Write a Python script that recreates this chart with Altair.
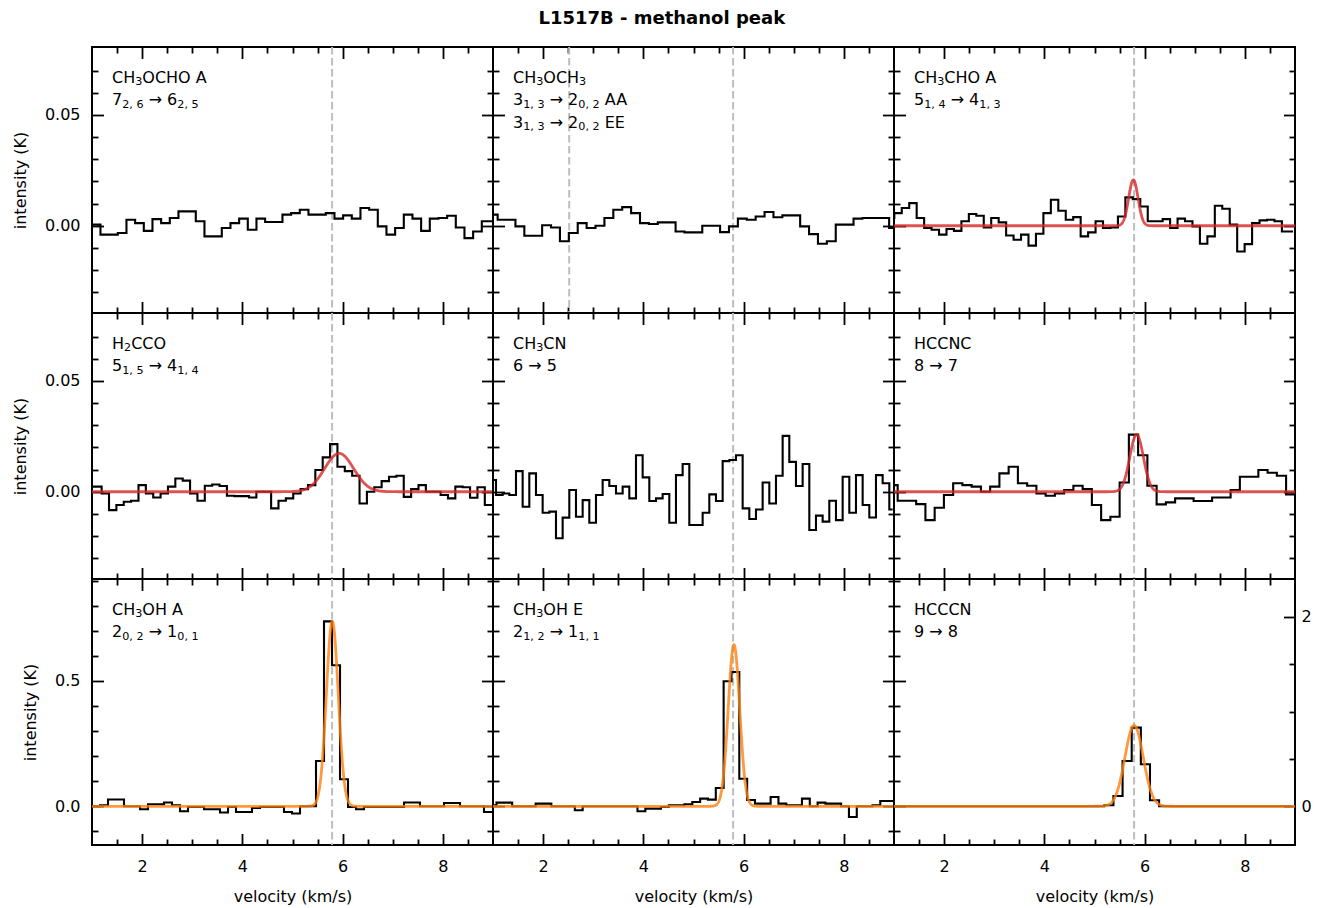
import re
import altair as alt
import numpy as np
import pandas as pd

FONT = "DejaVu Sans"
W, H = 401, 266

# ---------------- axes ----------------
X_DOMAIN = [1.0, 9.0]
Y_DOMAIN_UPPER = [-0.0394, 0.0807]
Y_DOMAIN_LOWER = [-0.1544, 0.907]
Y_DOMAIN_TWIN = [-0.409, 2.401]

X_MAJOR = [2, 4, 6, 8]
X_MINOR = [1.5, 2.5, 3.0, 3.5, 4.5, 5.0, 5.5, 6.5, 7.0, 7.5, 8.5]
Y_MAJOR_UPPER = [0.0, 0.05]
Y_MINOR_UPPER = [-0.03, -0.02, -0.01, 0.01, 0.02, 0.03, 0.04, 0.06, 0.07]
Y_MAJOR_LOWER = [0.0, 0.5]
Y_MINOR_LOWER = [-0.1, 0.1, 0.2, 0.3, 0.4, 0.6, 0.7, 0.8, 0.9]
Y_MAJOR_TWIN = [0, 2]
Y_MINOR_TWIN = [0.5, 1.0, 1.5]

# ---------------- panel labels (_{...} = subscript) ----------------
PANEL_LABELS = [
    ["CH_{3}OCHO A", "7_{2, 6} → 6_{2, 5}"],
    ["CH_{3}OCH_{3}", "3_{1, 3} → 2_{0, 2} AA", "3_{1, 3} → 2_{0, 2} EE"],
    ["CH_{3}CHO A", "5_{1, 4} → 4_{1, 3}"],
    ["H_{2}CCO", "5_{1, 5} → 4_{1, 4}"],
    ["CH_{3}CN", "6 → 5"],
    ["HCCNC", "8 → 7"],
    ["CH_{3}OH A", "2_{0, 2} → 1_{0, 1}"],
    ["CH_{3}OH E", "2_{1, 2} → 1_{1, 1}"],
    ["HCCCN", "9 → 8"],
]

# line-of-sight velocity markers (km/s)
VLINES = [[5.79], [2.52, 5.79], [5.79], [5.79], [5.79], [5.79], [5.79], [5.79], [5.79]]

# ---------------- spectra: first channel velocity, channel width, intensities ----------------
CHAN_V0 = [0.9095, 0.8265, 0.7833, 0.972, 0.86, 0.7965, 0.9204, 0.8355, 0.914]
CHAN_DV = [0.1729, 0.1775, 0.1487, 0.147, 0.133, 0.1845, 0.1596, 0.15625, 0.1822]

ch3ocho_a = [0.0005, 0.0005, -0.004, -0.004, -0.0033, 0.0027, 0.0012, -0.0023, 0.003, 0.0012,
             0.0035, 0.0065, 0.0065, 0.002, -0.0048, -0.0048, -0.001, 0.0012, 0.0032, -0.0018,
             0.0032, 0.0017, 0.0017, 0.005, 0.0057, 0.0072, 0.005, 0.005, 0.0057, 0.0032,
             0.0047, 0.0032, 0.008, 0.0072, -0.0003, -0.004, -0.001, 0.005, 0.0032, -0.0023,
             0.0032, 0.0035, 0.0045, -0.0008, -0.0056, -0.0026, 0.002, 0.002]
ch3och3 = [0.005, 0.005, 0.0027, 0.0027, -0.0003, -0.0045, -0.0045, 0.0002, -0.0008, -0.007,
           -0.0033, 0.0012, -0.001, 0.0, 0.0035, 0.0072, 0.0084, 0.0057, 0.0012, 0.0008,
           0.0015, 0.0015, -0.0026, -0.003, -0.003, 0.0, 0.0, -0.0029, -0.0003, 0.0032,
           0.0027, 0.0042, 0.0062, 0.0038, 0.0047, 0.0047, -0.0003, -0.0038, -0.0081, -0.007,
           0.0005, 0.0005, 0.0032, 0.0035, 0.0035, 0.0035, -0.001, 0.006]
ch3cho_a = [0.0035, 0.0035, 0.0057, 0.008, 0.0102, 0.0035, -0.001, -0.0018, -0.004, -0.0015,
            -0.0023, 0.002, 0.0053, 0.0045, -0.0008, 0.0035, 0.0015, -0.0044, -0.0063, -0.004,
            -0.009, -0.0036, 0.0057, 0.0117, 0.0068, 0.0027, 0.0039, -0.0048, -0.003, 0.002,
            -0.001, -0.0008, 0.0042, 0.0128, 0.012, 0.0087, 0.002, 0.002, 0.003, -0.001,
            0.0032, 0.002, -0.0003, -0.0081, -0.0048, 0.009, 0.0077, 0.0005, -0.0116, -0.0083,
            0.0012, 0.0024, 0.0027, 0.002, -0.0026, -0.0026]
h2cco = [0.0023, 0.0023, -0.0008, -0.0083, -0.006, -0.0045, -0.0041, 0.003, -0.0008, -0.0026,
         -0.0008, 0.0023, 0.006, 0.005, -0.0008, -0.0041, 0.0027, 0.0033, 0.0026, -0.0018,
         -0.002, -0.002, -0.0026, 0.0, 0.0, -0.0075, -0.0041, -0.003, -0.0008, 0.0012,
         0.003, 0.0098, 0.0155, 0.0215, 0.0113, 0.0093, 0.0072, -0.0053, 0.0, 0.002,
         0.0048, 0.0068, 0.0072, -0.0023, 0.0012, 0.003, 0.0, 0.0, -0.0015, -0.003,
         0.0023, 0.002, -0.0027, 0.002, -0.006, -0.006]
ch3cn = [0.0053, 0.0053, -0.0015, -0.0008, -0.0015, 0.0093, -0.0068, 0.0083, -0.0015, -0.0095,
         -0.009, -0.021, -0.0117, 0.0008, -0.0113, -0.0038, -0.014, -0.0015, 0.0053, 0.0026,
         -0.0008, 0.0023, -0.003, 0.0165, 0.0065, -0.0042, -0.003, -0.001, -0.014, 0.0075,
         0.0125, -0.015, -0.015, -0.0095, -0.0012, -0.0042, 0.0138, 0.0143, 0.0165, -0.0075,
         -0.0123, -0.008, 0.0042, -0.0053, 0.0072, 0.0252, 0.0135, 0.0026, 0.0125, -0.0173,
         -0.0108, -0.0135, -0.0041, -0.0128, 0.0068, -0.0095, 0.0075, -0.006, -0.0116, 0.0075,
         0.0038, -0.008]
hccnc = [0.003, 0.003, -0.0041, -0.0041, -0.0056, -0.0128, -0.0072, -0.0015, 0.0038, 0.003,
         0.0023, 0.0, 0.0023, 0.0083, 0.0113, 0.0038, 0.0027, -0.0008, -0.0018, -0.0008,
         0.0008, 0.0027, 0.0012, -0.006, -0.0128, -0.0113, 0.0042, 0.0258, 0.0165, 0.0027,
         -0.0057, -0.0048, -0.003, -0.003, -0.0042, -0.0042, -0.0026, -0.0026, 0.0008, 0.0068,
         0.0068, 0.0098, 0.0086, 0.0072, -0.0012, -0.0012]
ch3oh_a = [0.0, 0.0, 0.004, 0.027, 0.027, 0.0, 0.0, -0.012, 0.008, 0.008,
           0.015, 0.004, -0.02, -0.003, -0.003, -0.012, -0.012, -0.025, -0.003, -0.023,
           -0.023, -0.007, -0.003, -0.003, -0.003, -0.023, -0.029, 0.0, 0.0, 0.181,
           0.738, 0.563, 0.108, -0.003, -0.012, -0.003, -0.003, -0.003, -0.003, -0.003,
           0.015, 0.015, 0.0, 0.0, 0.0, 0.013, 0.013, 0.0, 0.0, 0.0,
           -0.023, -0.023]
ch3oh_e = [0.004, 0.004, 0.0146, 0.0146, 0.0, 0.0, 0.0, 0.0106, 0.0106, 0.0,
           0.0, 0.0, -0.016, 0.0, 0.0, 0.0, 0.0, 0.0, 0.0, 0.0,
           -0.02, -0.0093, -0.0093, -0.0027, 0.004, 0.004, 0.008, 0.0173, 0.0306, 0.0266,
           0.073, 0.4988, 0.536, 0.110, 0.0253, 0.0106, 0.0106, 0.0373, 0.0106, 0.004,
           0.004, 0.0306, 0.0, 0.0146, 0.0106, 0.0106, 0.0, -0.0426, 0.0, 0.0,
           0.004, 0.0213, 0.0213, 0.0213]
hcccn = [0.0, 0.0, 0.0, 0.0, 0.0, 0.0, 0.0, 0.0, 0.0, 0.0,
         0.0, 0.0, 0.0, 0.0, 0.0, 0.0, 0.0, 0.0, 0.0, 0.0,
         0.0, 0.0, 0.0, 0.0, 0.011, 0.109, 0.479, 0.831, 0.4435, 0.063,
         0.0, 0.0, 0.0, 0.0, 0.0, 0.0, 0.0, 0.0, 0.0, 0.0,
         0.0, 0.0, 0.0, 0.0, 0.0]
SPECTRA = [ch3ocho_a, ch3och3, ch3cho_a, h2cco, ch3cn, hccnc, ch3oh_a, ch3oh_e, hcccn]

# ---------------- Gaussian fits ----------------
FIT_PANEL = [2, 3, 5, 6, 7, 8]
FIT_AMP = [0.0207, 0.0173, 0.0258, 0.738, 0.645, 0.855]
FIT_CENTER = [5.775, 5.93, 5.84, 5.794, 5.807, 5.79]
FIT_FWHM = [0.22, 0.68, 0.32, 0.28, 0.27, 0.43]
FIT_COLOR = ["#d62728", "#d62728", "#d62728", "#ff7f0e", "#ff7f0e", "#ff7f0e"]

TITLE = "L1517B - methanol peak"
X_TITLE = "velocity (km/s)"
Y_TITLE = "intensity (K)"

MAJ, MIN = 11.5, 6.0
TEXT_SIZE, SUB_SIZE, SUB_DROP = 16, 11.2, 2.7

# DejaVu Sans advance widths (em)
GLYPH_EM = {"A": 0.684, "C": 0.698, "E": 0.632, "H": 0.752, "N": 0.748, "O": 0.787,
            " ": 0.318, ",": 0.318, "→": 0.838}
for _d in "0123456789":
    GLYPH_EM[_d] = 0.636


def text_width(s, size):
    return sum(GLYPH_EM.get(c, 0.6) for c in s) * size


def parse_runs(line):
    runs = []
    pos = 0
    for m in re.finditer(r"_\{([^}]*)\}", line):
        if m.start() > pos:
            runs.append((line[pos:m.start()], False))
        runs.append((m.group(1), True))
        pos = m.end()
    if pos < len(line):
        runs.append((line[pos:], False))
    return runs


def make_axis(orient, values, size, show_labels=False, fmt=None, title=None, pad=12.5, title_pad=14):
    kw = dict(orient=orient, values=values, tickSize=size, offset=-size, domain=False, grid=False,
              ticks=True, tickColor="black", tickWidth=1.8, labels=show_labels, title=title)
    if show_labels:
        kw.update(format=fmt, labelFont=FONT, labelFontSize=16, labelColor="black", labelPadding=pad)
    if title:
        kw.update(titleFont=FONT, titleFontSize=16, titleFontWeight="normal", titleColor="black",
                  titlePadding=title_pad)
    return alt.Axis(**kw)


def scale(dom):
    return alt.Scale(domain=dom, nice=False, zero=False)


def label_layers(lines):
    out = []
    for j, line in enumerate(lines):
        x = 20.0
        base = 35.5 + 22.5 * j
        for seg, sub in parse_runs(line):
            size = SUB_SIZE if sub else TEXT_SIZE
            core = seg.strip(" ")
            lead = len(seg) - len(seg.lstrip(" "))
            trail = len(seg) - len(seg.rstrip(" "))
            x += text_width(" " * lead, size)
            if core:
                out.append(
                    alt.Chart(pd.DataFrame({"t": [core]})).mark_text(
                        align="left", baseline="alphabetic", font=FONT, fontSize=size, color="black"
                    ).encode(x=alt.value(round(x, 2)), y=alt.value(base + (SUB_DROP if sub else 0)), text="t:N")
                )
            x += text_width(core, size) + text_width(" " * trail, size)
    return out


def build_panel(i):
    row, col = divmod(i, 3)
    twin = i == 8
    ydom = Y_DOMAIN_UPPER if row < 2 else Y_DOMAIN_LOWER
    ymaj = Y_MAJOR_UPPER if row < 2 else Y_MAJOR_LOWER
    ymin = Y_MINOR_UPPER if row < 2 else Y_MINOR_LOWER
    yfmt = ".2f" if row < 2 else ".1f"
    vals = SPECTRA[i]
    df = pd.DataFrame({"v": CHAN_V0[i] + CHAN_DV[i] * np.arange(len(vals)), "T": vals})
    ydata = Y_DOMAIN_TWIN if twin else ydom

    layers = []
    layers.append(
        alt.Chart(pd.DataFrame({"v": VLINES[i]})).mark_rule(
            color="#bdbdbd", strokeDash=[7.5, 3.5], strokeWidth=2
        ).encode(x=alt.X("v:Q", scale=scale(X_DOMAIN), axis=None))
    )
    layers.append(
        alt.Chart(df).mark_line(interpolate="step", color="black", strokeWidth=2.1, clip=True).encode(
            x=alt.X("v:Q", scale=scale(X_DOMAIN), axis=None),
            y=alt.Y("T:Q", scale=scale(ydata), axis=None),
        )
    )
    if i in FIT_PANEL:
        k = FIT_PANEL.index(i)
        expr = (f"{FIT_AMP[k]} * exp(-4 * LN2 * pow(datum.v - {FIT_CENTER[k]}, 2) / pow({FIT_FWHM[k]}, 2))")
        layers.append(
            alt.Chart(alt.sequence(0.9, 9.1, 0.005, as_="v")).transform_calculate(T=expr)
            .mark_line(color=FIT_COLOR[k], opacity=0.8, strokeWidth=2.8, clip=True).encode(
                x=alt.X("v:Q", scale=scale(X_DOMAIN), axis=None),
                y=alt.Y("T:Q", scale=scale(ydata), axis=None),
            )
        )
    layers.extend(label_layers(PANEL_LABELS[i]))

    def carrier(xax, yax, ydomain):
        return alt.Chart(df).mark_line(opacity=0, clip=True).encode(
            x=alt.X("v:Q", scale=scale(X_DOMAIN), axis=xax),
            y=alt.Y("T:Q", scale=scale(ydomain), axis=yax),
        )

    bottom_labels = row == 2
    left_labels = col == 0
    layers.append(carrier(
        make_axis("bottom", X_MAJOR, MAJ, bottom_labels, "d", X_TITLE if bottom_labels else None,
                  pad=13, title_pad=14),
        make_axis("left", ymaj, MAJ, left_labels, yfmt, Y_TITLE if left_labels else None,
                  pad=12, title_pad=16),
        ydom))
    layers.append(carrier(make_axis("bottom", X_MINOR, MIN), make_axis("left", ymin, MIN), ydom))
    if twin:
        layers.append(carrier(make_axis("top", X_MAJOR, MAJ),
                              make_axis("right", Y_MAJOR_TWIN, MAJ, True, "d", pad=6),
                              Y_DOMAIN_TWIN))
        layers.append(carrier(make_axis("top", X_MINOR, MIN),
                              make_axis("right", Y_MINOR_TWIN, MIN), Y_DOMAIN_TWIN))
    else:
        layers.append(carrier(make_axis("top", X_MAJOR, MAJ), make_axis("right", ymaj, MAJ), ydom))
        layers.append(carrier(make_axis("top", X_MINOR, MIN), make_axis("right", ymin, MIN), ydom))

    return alt.layer(*layers).resolve_scale(x="independent", y="independent").properties(width=W, height=H)


panels = [build_panel(i) for i in range(9)]

chart = alt.concat(*panels, columns=3, spacing=0, bounds="flush").properties(
    title=alt.TitleParams(TITLE, font=FONT, fontSize=18, fontWeight="bold", anchor="middle",
                          color="black", offset=17),
    padding={"left": 3, "top": 2, "right": 5, "bottom": 0},
    background="white",
).configure_view(stroke="black", strokeWidth=2)

chart.save("out.html", embed_options={"renderer": "svg", "actions": False})
